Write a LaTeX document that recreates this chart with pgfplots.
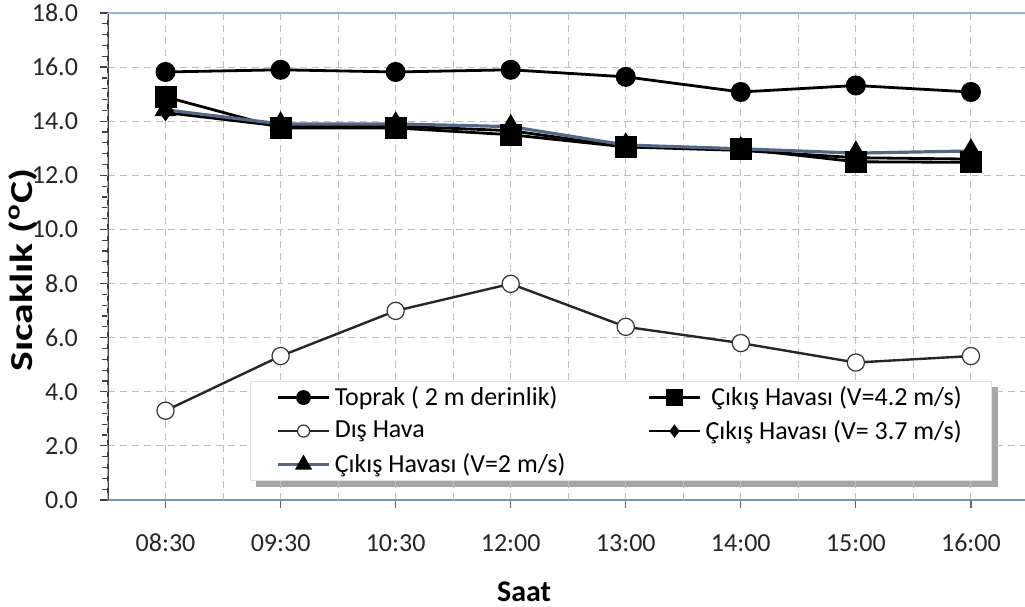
\documentclass[border=0pt]{standalone}
\usepackage{fontspec}
\setmainfont{Carlito}
\usepackage{pgfplots}
\pgfplotsset{compat=1.18}
\usetikzlibrary{backgrounds,calc}
\definecolor{slate}{RGB}{84,104,134}
\definecolor{toplinec}{RGB}{141,180,226}
\definecolor{botlinec}{RGB}{120,150,180}
\definecolor{gridc}{RGB}{190,190,190}
\begin{document}
\begin{tikzpicture}
\begin{axis}[
  name=main,
  scale only axis, width=458.5pt, height=243.5pt,
  xmin=-0.5, xmax=7.47, ymin=0, ymax=18,
  axis x line*=bottom, axis y line*=left,
  x axis line style={color=botlinec, line width=0.8pt, -},
  y axis line style={color=black!75, line width=0.6pt, -},
  xtick={0,...,7},
  xticklabels={08:30,09:30,10:30,12:00,13:00,14:00,15:00,16:00},
  extra x ticks={-0.5,0.5,1.5,2.5,3.5,4.5,5.5,6.5},
  extra x tick labels={},
  extra x tick style={grid=major, major tick length=0pt},
  ytick={0,2,...,18}, minor y tick num=4,
  tick align=outside,
  major tick length=4pt, minor tick length=3pt,
  x tick style={color=black!60, line width=0.6pt},
  y tick style={color=black!75, line width=0.6pt},
  grid=major,
  major grid style={color=gridc, dash pattern=on 3.5pt off 2.5pt, line width=0.5pt},
  /pgf/number format/assume math mode=true,
  yticklabel style={/pgf/number format/fixed, /pgf/number format/fixed zerofill, /pgf/number format/precision=1, xshift=-7.5pt},
  xticklabel style={yshift=-10.5pt, text height=1.6ex, text depth=0.3ex},
  tick label style={font=\fontsize{13}{15}\selectfont, color=black!85},
  ylabel={\scalebox{1.3}[1]{Sıcaklık (\textsuperscript{o}C)}},
  ylabel style={at={(axis description cs:-0.093,0.472)}, anchor=center, font=\fontsize{16}{18}\selectfont\bfseries},
  xlabel={Saat},
  xlabel style={at={(axis description cs:0.4537,-0.189)}, anchor=center, font=\fontsize{15}{17}\selectfont\bfseries},
  legend columns=2,
  legend cell align=left,
  legend image code/.code={\draw[mark repeat=2,mark phase=2, every mark/.append style={scale=0.7}] plot coordinates {(0cm,0cm) (0.45cm,0cm) (0.9cm,0cm)};},
  legend style={name=leg, at={(axis description cs:0.1548,0.244)}, anchor=north west,
    draw=gray!25, fill=white, font=\fontsize{13}{15}\selectfont,
    inner xsep=13pt, inner ysep=1pt, row sep=2.75pt,
    nodes={inner ysep=1.5pt},
    /tikz/column 2/.style={column sep=39pt}},
]
\draw[toplinec, line width=0.8pt] (rel axis cs:0,1) -- (rel axis cs:1,1);
\addplot[black, line width=1.4pt, mark=*, mark size=4.3pt, mark options={fill=black}]
  coordinates {(0,15.82) (1,15.9) (2,15.82) (3,15.9) (4,15.64) (5,15.08) (6,15.32) (7,15.08)};
\addlegendentry{Toprak ( 2 m derinlik)}
\addplot[black, line width=1.4pt, mark=square*, mark size=4.8pt, mark options={fill=black}]
  coordinates {(0,14.9) (1,13.75) (2,13.75) (3,13.5) (4,13.05) (5,12.98) (6,12.5) (7,12.48)};
\addlegendentry{\ Çıkış Havası (V=4.2 m/s)}
\addplot[black!85, line width=1.2pt, mark=*, mark size=4.3pt, mark options={fill=white, draw=black!80, line width=0.6pt}]
  coordinates {(0,3.3) (1,5.32) (2,6.99) (3,7.99) (4,6.4) (5,5.8) (6,5.08) (7,5.32)};
\addlegendentry{Dış Hava}
\addplot[black, line width=1.4pt, mark=diamond*, mark size=3.2pt, mark options={fill=black}]
  coordinates {(0,14.32) (1,13.82) (2,13.82) (3,13.65) (4,13.05) (5,12.92) (6,12.65) (7,12.6)};
\addlegendentry{Çıkış Havası (V= 3.7 m/s)}
\addplot[slate, line width=1.6pt, mark=triangle*, mark size=4.8pt, mark options={fill=black, draw=black}]
  coordinates {(0,14.42) (1,13.9) (2,13.9) (3,13.8) (4,13.12) (5,12.98) (6,12.82) (7,12.9)};
\addlegendentry{Çıkış Havası (V=2 m/s)}
\end{axis}
\begin{scope}[on background layer]
  \fill[black!35] ($(leg.south west)+(3pt,-3pt)$) rectangle ($(leg.north east)+(3pt,-3pt)$);
\end{scope}
\pgfresetboundingbox
\path ($(main.south west)+(-54pt,-53.5pt)$) rectangle ($(main.north east)+(0pt,6.5pt)$);
\end{tikzpicture}
\end{document}
